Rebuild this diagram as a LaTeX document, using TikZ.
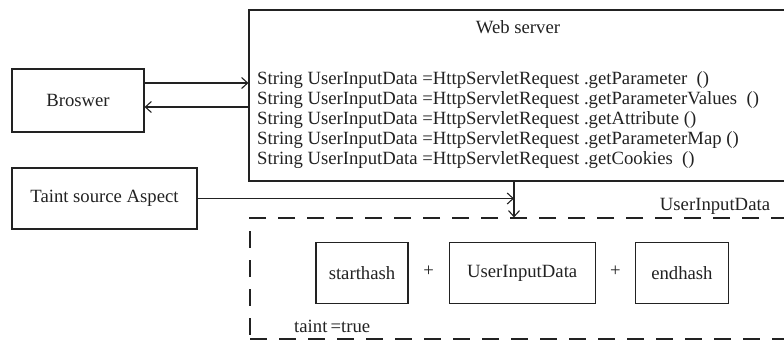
\documentclass[tikz,border=0pt]{standalone}
\usepackage{fontspec}
\setmainfont{Liberation Serif}
\usetikzlibrary{arrows.meta,calc,positioning}
\definecolor{Ink}{HTML}{222222}
\tikzset{box/.style={draw=Ink,line width=1.2pt,minimum height=61pt,inner sep=0pt,text=Ink,align=center},frame/.style={draw=Ink,line width=1.2pt,dash pattern=on 17pt off 12pt,inner sep=0pt},flow/.style={-{Straight Barb[length=6pt,width=11pt]},line width=1.1pt,draw=Ink},txt/.style={text=Ink,inner sep=0pt}}

\begin{document}
\begin{tikzpicture}[x=1pt,y=-1pt,node distance=40pt,every node/.style={font=\fontsize{18.7}{20}\selectfont}]
      \useasboundingbox (0,0) rectangle (784,341);
      \clip (0,0) rectangle (784,341);
      \node[box,minimum width=538pt,minimum height=171pt](web) at (518,95.5){};
      \node[txt](title) at (518,27){Web server};
      \node[txt,anchor=west,align=left](calls) at (257,120){String UserInputData =HttpServletRequest .getParameter\ \ ()\\String UserInputData =HttpServletRequest .getParameterValues\ \ ()\\String UserInputData =HttpServletRequest .getAttribute ()\\String UserInputData =HttpServletRequest .getParameterMap ()\\String UserInputData =HttpServletRequest .getCookies\ \ ()};
      \node[box,minimum width=132pt,minimum height=63pt](browser) at (78,100.5){Broswer};
      \node[box,minimum width=185pt](source) at (104.5,198.5){Taint source Aspect};
      \node[frame,minimum width=542pt,minimum height=121pt](wrap) at (521,278.5){};
      \node[txt](tag) at (715,206){UserInputData};
      \node[box,minimum width=92pt](start) at (362,273){starthash};
      \node[box,minimum width=146pt,right=of start](input){UserInputData};
      \node[box,minimum width=93pt,right=39pt of input](end){endhash};
      \node[txt,text=Ink] at ($(start.east)!.5!(input.west)+(0,-2)$){+};
      \node[txt,text=Ink] at ($(input.east)!.5!(end.west)+(0,-2)$){+};
      \node[txt,anchor=west](flag) at (294,326){taint\,=true};
      \coordinate (join) at (514,198.5);
      \draw[flow]([yshift=17.5pt]browser.east)--([yshift=17.5pt]browser.east -| web.west);\draw[flow]([yshift=-6.5pt]browser.east -| web.west)--([yshift=-6.5pt]browser.east);
      \draw[flow](source)--(join);\draw[flow](join |- web.south)--(join |- wrap.north);
    \end{tikzpicture}
\end{document}
